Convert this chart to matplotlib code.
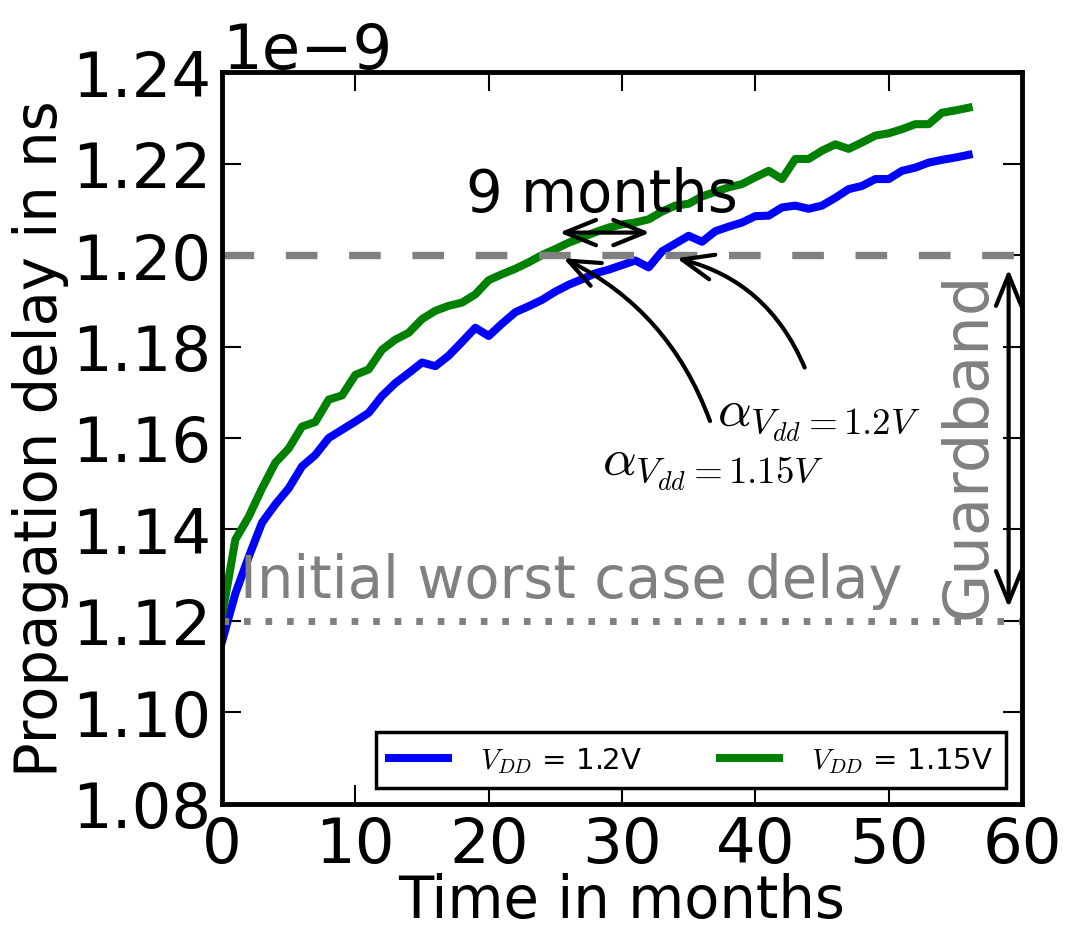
import numpy as np
import matplotlib
matplotlib.use('Agg')
import matplotlib.pyplot as plt

plt.rcParams['font.family'] = ['DejaVu Sans']
plt.rcParams['mathtext.fontset'] = 'cm'

# months
months = list(range(0, 57))
# propagation delay (x1e-9 s), Vdd = 1.2V
delay_12 = [1.1155, 1.126, 1.134, 1.1415, 1.1455, 1.149, 1.1538, 1.1563, 1.160, 1.1618,
            1.1636, 1.1655, 1.1692, 1.172, 1.1742, 1.1765, 1.1757, 1.178, 1.181, 1.1841,
            1.1823, 1.185, 1.1875, 1.1888, 1.1902, 1.192, 1.1935, 1.1947, 1.196, 1.1968,
            1.1978, 1.1988, 1.1973, 1.2008, 1.2025, 1.2042, 1.2029, 1.2052, 1.2062, 1.2071,
            1.2085, 1.2086, 1.2104, 1.2108, 1.2101, 1.2108, 1.2125, 1.2144, 1.2151, 1.2166,
            1.2166, 1.2184, 1.2191, 1.2202, 1.2208, 1.2213, 1.2219]
# propagation delay (x1e-9 s), Vdd = 1.15V
delay_115 = [1.121, 1.1378, 1.1428, 1.149, 1.1546, 1.1577, 1.1625, 1.1635, 1.1684, 1.1693,
             1.1738, 1.175, 1.1793, 1.1815, 1.183, 1.186, 1.1878, 1.1889, 1.1896, 1.1914,
             1.1945, 1.1958, 1.197, 1.1984, 1.2, 1.2013, 1.2027, 1.2038, 1.205, 1.206,
             1.2067, 1.2071, 1.2078, 1.2095, 1.2108, 1.2112, 1.2128, 1.2138, 1.2148, 1.2155,
             1.217, 1.2184, 1.2166, 1.221, 1.221, 1.2228, 1.2242, 1.2232, 1.2246, 1.2261,
             1.2266, 1.2275, 1.2286, 1.2286, 1.2311, 1.2316, 1.2322]
guardband = 1.20
initial_delay = 1.12

t = np.array(months)
y12 = np.array(delay_12) * 1e-9
y115 = np.array(delay_115) * 1e-9

fig = plt.figure(figsize=(10.68, 9.29), dpi=100)
ax = fig.add_axes([0.2079, 0.1335, 0.749, 0.7879])

ax.plot(t, y12, color='#0000ff', lw=5.8, label=r'$V_{DD}$ = 1.2V')
ax.plot(t, y115, color='#008000', lw=5.8, label=r'$V_{DD}$ = 1.15V')

ax.axhline(guardband * 1e-9, color='#808080', lw=5.3, dashes=(4.3, 4.3))
ax.axhline(initial_delay * 1e-9, color='#808080', lw=5.0, dashes=(0.95, 2.15))

ax.set_xlim(0, 60)
ax.set_ylim(1.08e-9, 1.24e-9)
ax.set_xticks(np.arange(0, 61, 10))
ax.set_yticks(np.arange(1.08, 1.2401, 0.02) * 1e-9)
ax.ticklabel_format(axis='y', style='sci', scilimits=(0, 0), useOffset=False)
ax.yaxis.get_offset_text().set_fontsize(45)

ax.tick_params(direction='in', top=True, right=True, length=14, width=1.5,
               labelsize=45, pad=8)
for sp in ax.spines.values():
    sp.set_linewidth(3.5)

ax.set_xlabel('Time in months', fontsize=41.5, labelpad=-2)
ax.set_ylabel('Propagation delay in ns', fontsize=41.5, labelpad=2)

head = '->,head_length=1.6,head_width=0.65'
dhead = '<->,head_length=1.6,head_width=0.65'
alw = 3.0

# 9 months
ax.annotate('', xy=(32.1, 1.2049e-9), xytext=(25.3, 1.2049e-9),
            arrowprops=dict(arrowstyle=dhead, lw=alw, color='black', mutation_scale=14,
                            shrinkA=0, shrinkB=0))
ax.text(28.5, 1.2096e-9, '9 months', fontsize=41.5, ha='center', va='baseline')

# curved arrows
ax.annotate('', xy=(25.6, 1.1993e-9), xytext=(36.6, 1.1637e-9),
            arrowprops=dict(arrowstyle=head, lw=alw, color='black', mutation_scale=14,
                            shrinkA=0, shrinkB=0, connectionstyle='arc3,rad=0.2'))
ax.annotate('', xy=(34.1, 1.1993e-9), xytext=(43.7, 1.1754e-9),
            arrowprops=dict(arrowstyle=head, lw=alw, color='black', mutation_scale=14,
                            shrinkA=0, shrinkB=0, connectionstyle='arc3,rad=0.25'))
ax.text(37.1, 1.1706e-9, r'$\alpha_{V_{dd}=1.2V}$', fontsize=38, ha='left', va='top')
ax.text(28.5, 1.1597e-9, r'$\alpha_{V_{dd}=1.15V}$', fontsize=38, ha='left', va='top')

# initial delay + guardband
ax.text(1.35, 1.1253e-9, 'Initial worst case delay', fontsize=41.5, color='#808080',
        ha='left', va='baseline')
ax.annotate('', xy=(59, 1.1969e-9), xytext=(59, 1.1229e-9),
            arrowprops=dict(arrowstyle=dhead, lw=alw, color='black', mutation_scale=14,
                            shrinkA=0, shrinkB=0))
ax.text(56.0, 1.1586e-9, 'Guardband', fontsize=45, color='#808080', rotation=90,
        ha='center', va='center')

leg = ax.legend(loc='lower right', ncol=2, fontsize=21, handlelength=2.0,
                handletextpad=1.1, columnspacing=2.7, borderaxespad=0.55,
                borderpad=0.45, fancybox=False, framealpha=1, edgecolor='black')
leg.get_frame().set_linewidth(2.5)

fig.savefig('out.png', dpi=100)
